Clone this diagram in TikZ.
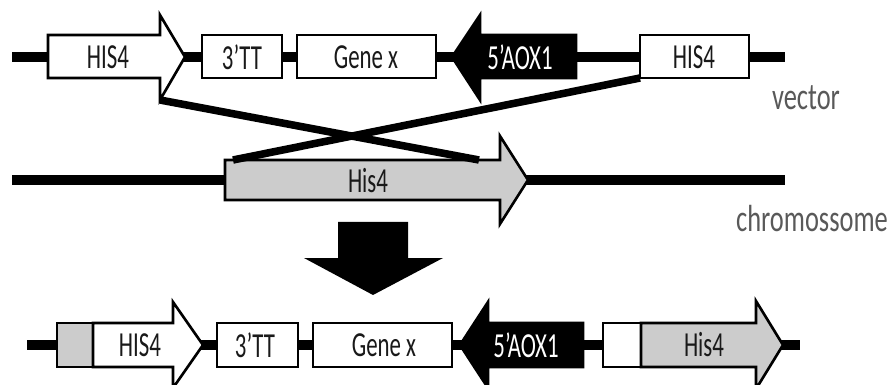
\documentclass[tikz,border=0pt]{standalone}
\usepackage{fontspec}
\setmainfont{Carlito}
\usetikzlibrary{calc}
\definecolor{lblgray}{HTML}{595959}
\definecolor{partgray}{HTML}{CCCCCC}

\begin{document}
\begin{tikzpicture}[
    x=0.02cm, y=-0.02cm,
    backbone/.style={line width=0.2cm},
    part/.style={draw, line width=1.5pt, fill=white, line join=miter},
    cross/.style={line width=4.3pt},
    txt/.style={font=\fontsize{20}{20}\selectfont, xscale=0.65, inner sep=0pt, text=black!90},
    lbl/.style={font=\fontsize{21.5}{21.5}\selectfont, xscale=0.7, inner sep=0pt, text=lblgray}
  ]
  \clip (0,0) rectangle (890,385);

  % vector
  \draw[backbone] (12,57) -- (785,57);
  \draw[part] (48,35) -- (160,35) -- (160,15) -- (185,57) -- (160,100) -- (160,78) -- (48,78) -- cycle;
  \draw[part] (202,35) rectangle (282,78);
  \draw[part] (297,35) rectangle (436,78);
  \draw[part, fill=black] (576,35) -- (480,35) -- (480,15) -- (452,57) -- (480,100) -- (480,78) -- (576,78) -- cycle;
  \draw[part] (640,35) rectangle (749,78);
  \node[txt] (vhis) at (108,57) {HIS4};
  \node[txt] (vtt) at (242,57) {3’TT};
  \node[txt] (vgene) at (366,57) {Gene x};
  \node[txt, text=white] (vaox) at (520,57) {5’AOX1};
  \node[txt] (vhisr) at (694,57) {HIS4};
  \node[lbl] (vec) at (806,98) {vector};

  % chromosome
  \draw[backbone] (12,180) -- (785,180);
  \draw[part, fill=partgray] (225,160) -- (500,160) -- (500,136) -- (528,180) -- (500,224) -- (500,200) -- (225,200) -- cycle;
  \node[txt] (chis) at (368,181) {His4};
  \node[lbl] (chr) at (812,219) {chromossome};

  % crossover
  \coordinate (leftend) at (160,100);
  \coordinate (rightend) at (640,78);
  \coordinate (chrR) at (479,160);
  \coordinate (chrL) at (233,160);
  \draw[cross] (leftend) -- (chrR);
  \draw[cross] (rightend) -- (chrL);

  % big arrow
  \fill (338,222) -- (408,222) -- (408,258) -- (443,258) -- (373,295) -- (304,258) -- (338,258) -- cycle;

  % integrated
  \draw[backbone] (27,345) -- (800,345);
  \draw[part, fill=partgray] (57,323) rectangle (93,367);
  \draw[part] (93,323) -- (173,323) -- (173,302) -- (203,345) -- (173,388) -- (173,367) -- (93,367) -- cycle;
  \draw[part] (217,323) rectangle (298,367);
  \draw[part] (313,323) rectangle (452,367);
  \draw[part, fill=black] (583,323) -- (488,323) -- (488,302) -- (460,345) -- (488,388) -- (488,367) -- (583,367) -- cycle;
  \draw[part] (603,323) rectangle (641,367);
  \draw[part, fill=partgray] (641,323) -- (756,323) -- (756,301) -- (783,345) -- (756,389) -- (756,367) -- (641,367) -- cycle;
  \node[txt] (ihis) at (140,345) {HIS4};
  \node[txt] (itt) at (255,345) {3’TT};
  \node[txt] (igene) at (384,345) {Gene x};
  \node[txt, text=white] (iaox) at (526,345) {5’AOX1};
  \node[txt] (ihisr) at (704,345) {His4};
\end{tikzpicture}
\end{document}
